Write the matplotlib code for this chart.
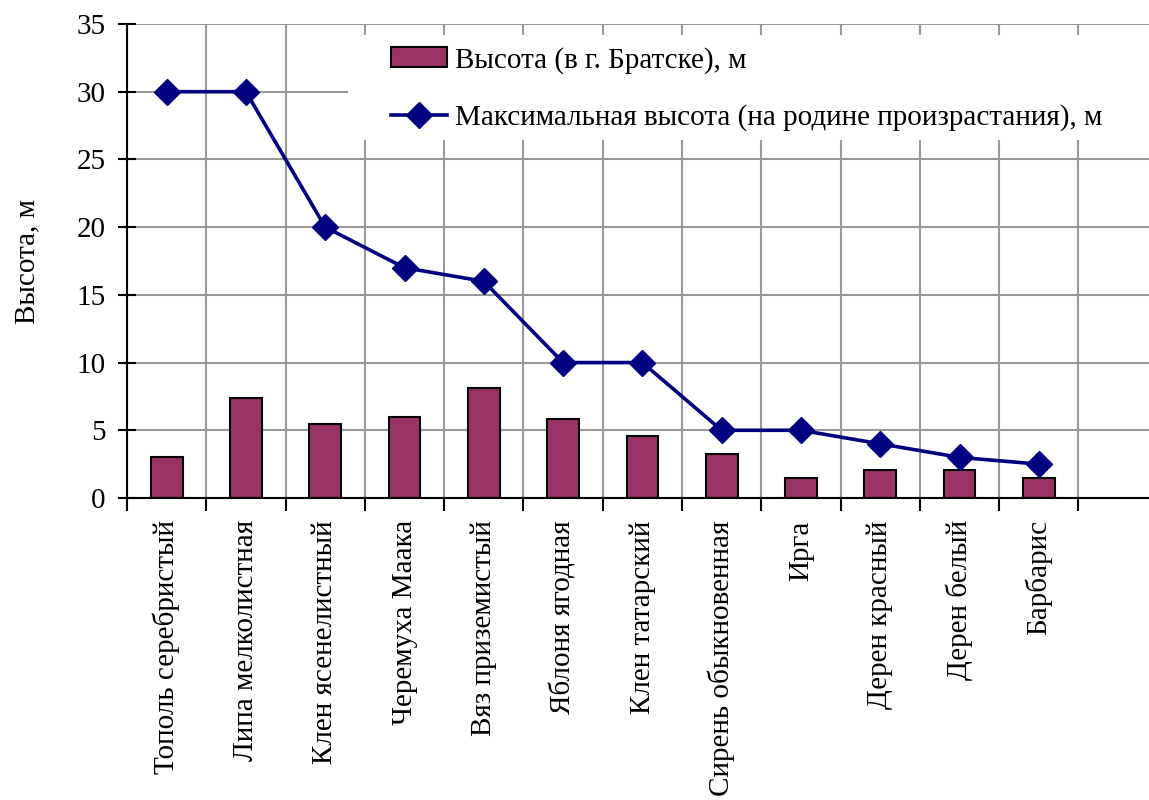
import matplotlib
matplotlib.use("Agg")
import matplotlib.pyplot as plt
from matplotlib.patches import Rectangle
import numpy as np

plt.rcParams['font.family'] = ['Liberation Serif', 'DejaVu Serif']

# tree species (last slot on the axis is empty)
species = ["Тополь серебристый", "Липа мелколистная", "Клен ясенелистный",
           "Черемуха Маака", "Вяз приземистый", "Яблоня ягодная",
           "Клен татарский", "Сирень обыкновенная", "Ирга",
           "Дерен красный", "Дерен белый", "Барбарис"]
# height in Bratsk, m
height_bratsk = [3.0, 7.4, 5.5, 5.95, 8.15, 5.8, 4.6, 3.25, 1.5, 2.05, 2.05, 1.5]
# max height in native range, m
height_max = [30, 30, 20, 17, 16, 10, 10, 5, 5, 4, 3, 2.5]

fig = plt.figure(figsize=(11.49, 8.0), dpi=100)
ax = fig.add_axes([127/1149, 1-498/800, (1149-127)/1149, (498-24)/800])

x = np.arange(len(species))
bars = ax.bar(x, height_bratsk, width=0.40, color="#993366", edgecolor="black",
              linewidth=1.5, zorder=2, label="Высота (в г. Братске), м")
line, = ax.plot(x, height_max, color="#000080", linewidth=2.6, marker="D",
                markersize=13, zorder=3,
                label="Максимальная высота (на родине произрастания), м")

ax.set_xlim(-0.5, 12.39)
ax.set_ylim(0, 35)
ax.set_yticks(np.arange(0, 36, 5))
ax.set_xticks(np.arange(13) - 0.5)
ax.set_xticklabels([])
ax.set_xticks(x, minor=True)
ax.set_xticklabels(species, minor=True, rotation=90, va="top", ha="center")
ax.tick_params(axis="x", which="minor", length=0, pad=16, labelsize=21)
ax.tick_params(axis="x", which="major", length=9, width=1.5, direction="out")
ax.tick_params(axis="y", length=13, width=1.5, direction="inout", labelsize=21, pad=9)

ax.grid(True, which="major", color="#999999", linewidth=1.5)
ax.set_axisbelow(True)
for s in ["top", "right"]:
    ax.spines[s].set_visible(False)
ax.spines["left"].set_linewidth(1.5)
ax.spines["bottom"].set_linewidth(1.5)
ax.set_ylabel("Высота, м", fontsize=21, labelpad=26)

# white area behind the legend
ax.add_patch(Rectangle((0.216, 0.755), 0.9, 0.222, transform=ax.transAxes,
                       facecolor="white", edgecolor="none", zorder=1, clip_on=False))
ax.legend([bars, line], [bars.get_label(), line.get_label()],
          loc="upper left", bbox_to_anchor=(376/1149, 1-32/800),
          bbox_transform=fig.transFigure, frameon=False, fontsize=21,
          borderpad=0, handlelength=1.95, handletextpad=0.25, labelspacing=1.05)

fig.savefig("out.png", dpi=100)
